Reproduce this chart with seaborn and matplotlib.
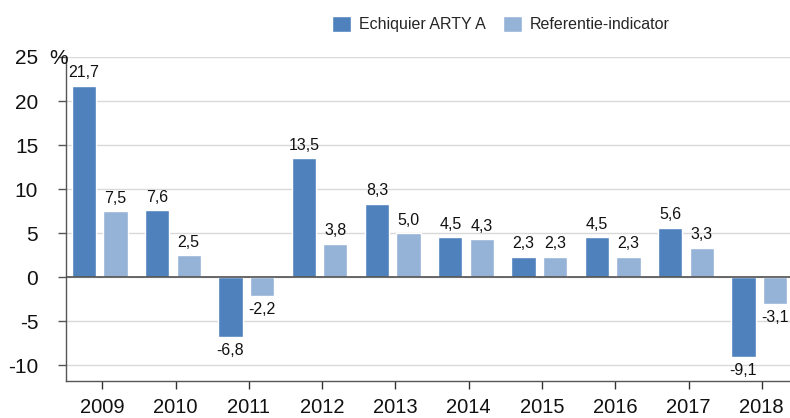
import matplotlib
matplotlib.use("Agg")
import matplotlib.pyplot as plt
import seaborn as sns
import pandas as pd

years = ["2009", "2010", "2011", "2012", "2013", "2014", "2015", "2016", "2017", "2018"]
fund = [21.7, 7.6, -6.8, 13.5, 8.3, 4.5, 2.3, 4.5, 5.6, -9.1]
bench = [7.5, 2.5, -2.2, 3.8, 5.0, 4.3, 2.3, 2.3, 3.3, -3.1]
series_names = ["Echiquier ARTY A", "Referentie-indicator"]
colors = ["#4F81BD", "#95B3D7"]

df = pd.DataFrame({
    "year": years * 2,
    "value": fund + bench,
    "series": [series_names[0]] * len(years) + [series_names[1]] * len(years),
})

sns.set_theme(style="white")
plt.rcParams["font.family"] = ["Liberation Sans", "DejaVu Sans"]

W, H = 790, 418
fig = plt.figure(figsize=(W / 100, H / 100), dpi=100)
ax = fig.add_axes([66 / W, 1 - 381 / H, 1 - 66 / W, (381 - 57) / H])

sns.barplot(data=df, x="year", y="value", hue="series", palette=colors,
            width=0.86, gap=0.23, ax=ax, legend=True, saturation=1)

for cont in ax.containers:
    labels = [f"{v:.1f}".replace(".", ",") for v in cont.datavalues]
    ax.bar_label(cont, labels=labels, padding=4, fontsize=11.5, color="#111111")

ax.set_ylim(-11.8, 25)
ax.set_xlim(-0.46, 9.42)
ax.set_xticks([i + 0.035 for i in range(len(years))])
ax.set_xticklabels(years, fontsize=14.5)
ax.set_yticks([-10, -5, 0, 5, 10, 15, 20, 25])
ax.set_yticklabels(["-10", "-5", "0", "5", "10", "15", "20", "25"], fontsize=15)
ax.annotate("%", xy=(49 / W, 25), xycoords=("figure fraction", "data"),
            ha="left", va="center_baseline", fontsize=15, color="#111111",
            annotation_clip=False)
ax.tick_params(axis="x", length=6, width=1, color="#333333",
               pad=6, bottom=True, direction="out", labelcolor="#111111")
ax.tick_params(axis="y", length=6, width=1, color="#555555", left=True,
               direction="out", pad=14, labelcolor="#111111")
ax.yaxis.grid(True, color="#D9D9D9", linewidth=1)
ax.set_axisbelow(True)
ax.axhline(0, color="#505050", linewidth=1.2, zorder=3)
ax.set_xlabel("")
ax.set_ylabel("")
for s in ["top", "right"]:
    ax.spines[s].set_visible(False)
for s in ["left", "bottom"]:
    ax.spines[s].set_color("#555555")
    ax.spines[s].set_linewidth(1)

handles, lbls = ax.get_legend_handles_labels()
ax.legend(handles, lbls, loc="center", bbox_to_anchor=(0.634, 1 - 24 / H),
          bbox_transform=fig.transFigure, ncol=2, frameon=False, fontsize=11.5,
          handlelength=1.2, handleheight=1.2, handletextpad=0.5, columnspacing=1.1,
          borderpad=0, borderaxespad=0)

fig.savefig("out.png", dpi=100)
